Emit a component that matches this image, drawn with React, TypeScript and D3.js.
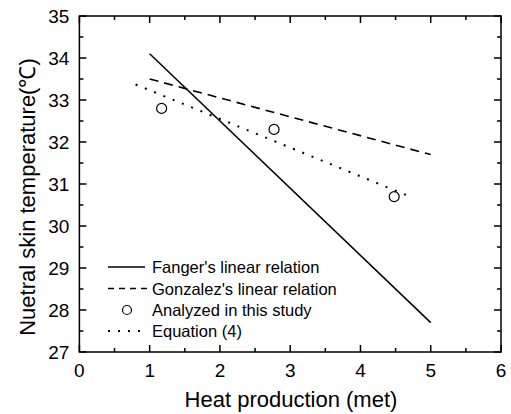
import React from "react";
import * as d3 from "d3";

const xTicks = [0, 1, 2, 3, 4, 5, 6];
const yTicks = [27, 28, 29, 30, 31, 32, 33, 34, 35];
const fangerX = [1, 5];
const fangerY = [34.1, 27.7];
const gonzalezX = [1, 5];
const gonzalezY = [33.5, 31.7];
const studyX = [1.17, 2.77, 4.48];
const studyY = [32.8, 32.3, 30.7];
const equationX = [0.8, 4.75];
const equationY = [33.37, 30.67];
const legendLabels = [
  "Fanger's linear relation",
  "Gonzalez's linear relation",
  "Analyzed in this study",
  "Equation (4)",
];

const W = 511;
const H = 414;
const L = 79.4;
const R = 501;
const T = 16;
const B = 352;

export default function App() {
  const x = d3.scaleLinear().domain([0, 6]).range([L, R]);
  const y = d3.scaleLinear().domain([27, 35]).range([B, T]);
  const line = d3
    .line<[number, number]>()
    .x((d) => x(d[0]))
    .y((d) => y(d[1]));
  const pts = (xs: number[], ys: number[]) =>
    xs.map((v, i) => [v, ys[i]] as [number, number]);

  const xMinor = d3.range(0.5, 6, 1);
  const yMinor = d3.range(27.5, 35, 1);
  const font = "Liberation Sans, Arial, sans-serif";
  const legY = [267, 288.5, 310, 331];

  return (
    <svg
      width={W}
      height={H}
      style={{ position: "absolute", left: 0, top: 0, background: "#fff" }}
      fontFamily={font}
    >
      <rect x={0} y={0} width={W} height={H} fill="#fff" />
      {/* ticks */}
      <g stroke="#000" strokeWidth={1.5}>
        {xTicks.map((t) => (
          <g key={"xt" + t}>
            <line x1={x(t)} x2={x(t)} y1={B} y2={B - 7} />
            <line x1={x(t)} x2={x(t)} y1={T} y2={T + 7} />
          </g>
        ))}
        {xMinor.map((t) => (
          <g key={"xm" + t}>
            <line x1={x(t)} x2={x(t)} y1={B} y2={B - 4} />
            <line x1={x(t)} x2={x(t)} y1={T} y2={T + 4} />
          </g>
        ))}
        {yTicks.map((t) => (
          <g key={"yt" + t}>
            <line x1={L} x2={L + 7} y1={y(t)} y2={y(t)} />
            <line x1={R} x2={R - 7} y1={y(t)} y2={y(t)} />
          </g>
        ))}
        {yMinor.map((t) => (
          <g key={"ym" + t}>
            <line x1={L} x2={L + 4} y1={y(t)} y2={y(t)} />
            <line x1={R} x2={R - 4} y1={y(t)} y2={y(t)} />
          </g>
        ))}
      </g>
      <rect
        x={L}
        y={T}
        width={R - L}
        height={B - T}
        fill="none"
        stroke="#000"
        strokeWidth={1.5}
      />
      {/* tick labels */}
      <g fontSize={19} fill="#000">
        {xTicks.map((t) => (
          <text key={"xl" + t} x={x(t)} y={B + 25} textAnchor="middle">
            {t}
          </text>
        ))}
        {yTicks.map((t) => (
          <text
            key={"yl" + t}
            x={L - 10}
            y={y(t)}
            textAnchor="end"
            dominantBaseline="central"
          >
            {t}
          </text>
        ))}
      </g>
      <text x={291} y={407} fontSize={22} textAnchor="middle">
        Heat production (met)
      </text>
      <text
        transform="translate(35,197) rotate(-90)"
        fontSize={22}
        textAnchor="middle"
      >
        Nuetral skin temperature(℃)
      </text>
      {/* data */}
      <path
        d={line(pts(fangerX, fangerY)) || ""}
        fill="none"
        stroke="#000"
        strokeWidth={1.5}
      />
      <path
        d={line(pts(gonzalezX, gonzalezY)) || ""}
        fill="none"
        stroke="#000"
        strokeWidth={1.6}
        strokeDasharray="9 6"
      />
      <path
        d={line(pts(equationX, equationY)) || ""}
        fill="none"
        stroke="#000"
        strokeWidth={2}
        strokeDasharray="2 8"
      />
      {studyX.map((v, i) => (
        <circle
          key={"c" + i}
          cx={x(v)}
          cy={y(studyY[i])}
          r={5}
          fill="none"
          stroke="#000"
          strokeWidth={1.2}
        />
      ))}
      {/* legend */}
      <g fontSize={16.5}>
        <line x1={108} x2={145} y1={legY[0]} y2={legY[0]} stroke="#000" strokeWidth={1.5} />
        <line
          x1={108}
          x2={148}
          y1={legY[1]}
          y2={legY[1]}
          stroke="#000"
          strokeWidth={1.5}
          strokeDasharray="6 5"
        />
        <circle cx={127} cy={legY[2]} r={4.5} fill="none" stroke="#000" strokeWidth={1.2} />
        <line
          x1={108}
          x2={145}
          y1={legY[3]}
          y2={legY[3]}
          stroke="#000"
          strokeWidth={2}
          strokeDasharray="2 8"
        />
        {legendLabels.map((s, i) => (
          <text key={s} x={152} y={legY[i]} dominantBaseline="central">
            {s}
          </text>
        ))}
      </g>
    </svg>
  );
}
